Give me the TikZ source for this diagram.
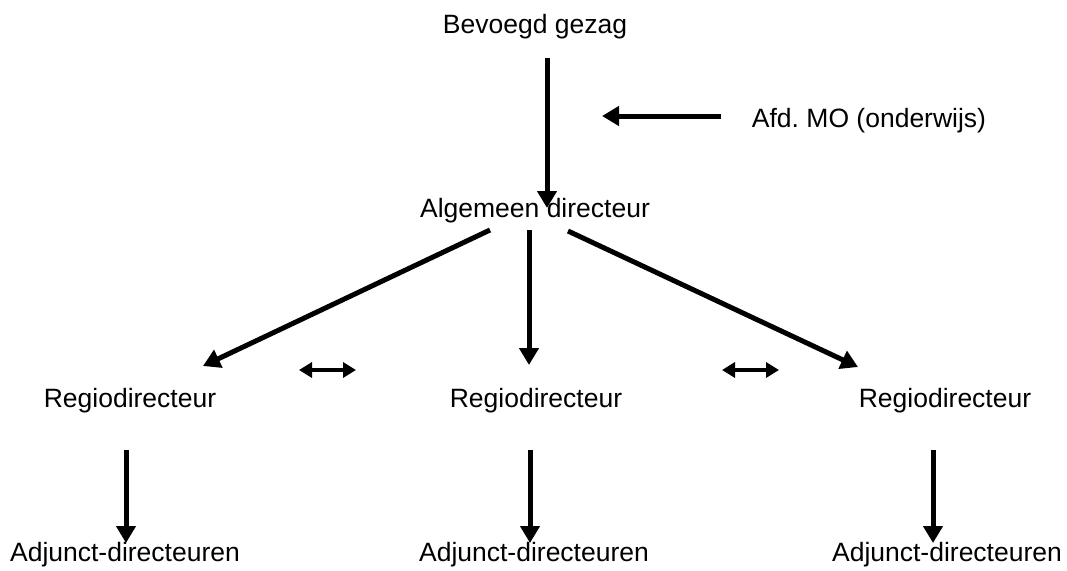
\documentclass[tikz,border=0pt]{standalone}
\usepackage{fontspec}
\setmainfont{Liberation Sans}
\usetikzlibrary{arrows.meta}
\begin{document}
\begin{tikzpicture}[x=1pt,y=-1pt,
  lbl/.style={anchor=base,inner sep=0pt,font=\fontsize{26.5}{30}\selectfont},
  bigarrow/.style={line width=5pt,-{Triangle[length=17pt,width=19pt]}},
  duo/.style={line width=3.5pt,{Triangle[length=13pt,width=15pt]}-{Triangle[length=13pt,width=15pt]}}]
\useasboundingbox (0,0) rectangle (1067,570);
% labels
\node[lbl] (bg) at (535,33) {Bevoegd gezag};
\node[lbl] (mo) at (869,127) {Afd.\ MO (onderwijs)};
\node[lbl] (ad) at (535,217) {Algemeen directeur};
\node[lbl] (r1) at (130,407) {Regiodirecteur};
\node[lbl] (r2) at (536,407) {Regiodirecteur};
\node[lbl] (r3) at (945,407) {Regiodirecteur};
\node[lbl] (a1) at (125,561) {Adjunct-directeuren};
\node[lbl] (a2) at (534,561) {Adjunct-directeuren};
\node[lbl] (a3) at (947,561) {Adjunct-directeuren};
% arrow ends
\coordinate (bgS) at (547,58);
\coordinate (adN) at (547,208);
\coordinate (moW) at (721,116);
\coordinate (moT) at (602,116);
\coordinate (adL) at (490,230);
\coordinate (r1T) at (203,366);
\coordinate (adM) at (529,230);
\coordinate (r2T) at (529,365);
\coordinate (adR) at (568,231);
\coordinate (r3T) at (858,367);
\coordinate (d1a) at (299,370);
\coordinate (d1b) at (356,370);
\coordinate (d2a) at (722,370);
\coordinate (d2b) at (779,370);
\coordinate (r1S) at (126,450);
\coordinate (a1T) at (126,543);
\coordinate (r2S) at (530,450);
\coordinate (a2T) at (530,543);
\coordinate (r3S) at (933,450);
\coordinate (a3T) at (933,543);
% connectors
\draw[bigarrow] (bgS) -- (adN);
\draw[bigarrow] (moW) -- (moT);
\draw[bigarrow] (adL) -- (r1T);
\draw[bigarrow] (adM) -- (r2T);
\draw[bigarrow] (adR) -- (r3T);
\draw[duo] (d1a) -- (d1b);
\draw[duo] (d2a) -- (d2b);
\draw[bigarrow] (r1S) -- (a1T);
\draw[bigarrow] (r2S) -- (a2T);
\draw[bigarrow] (r3S) -- (a3T);
\end{tikzpicture}
\end{document}
